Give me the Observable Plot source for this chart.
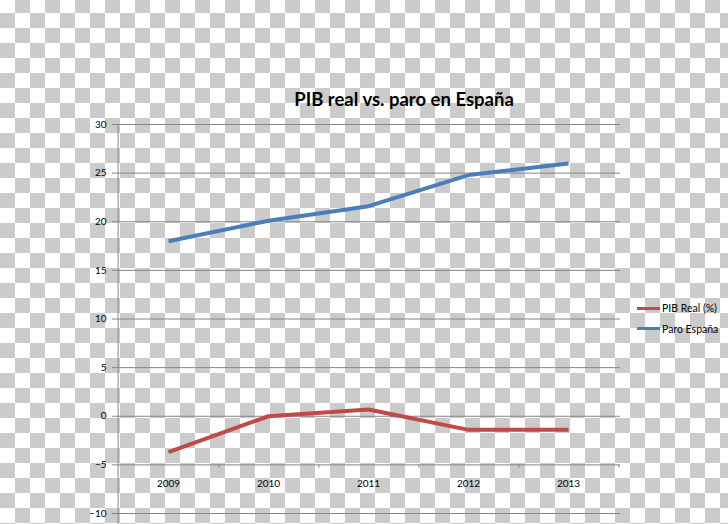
<!DOCTYPE html>
<html><head><meta charset="utf-8">
<script src="https://cdn.jsdelivr.net/npm/d3@7"></script>
<script src="https://cdn.jsdelivr.net/npm/@observablehq/plot@0.6"></script>
<style>
html,body{margin:0;padding:0;}
body{width:728px;height:524px;overflow:hidden;position:relative;background-color:#fff;
 background-image:repeating-conic-gradient(#cbcbcb 0 25%, #ffffff 0 50%);
 background-size:30px 30px;background-position:0 -2px;font-family:Lato,"Open Sans",sans-serif;}
#chart{position:absolute;left:0;top:0;}
#title{position:absolute;top:89px;left:0;width:808px;text-align:center;font-weight:bold;font-size:18.5px;line-height:20px;color:#000;}
#legend{position:absolute;left:637px;top:302px;font-size:10.5px;color:#000;}
.item{display:flex;align-items:center;height:12px;margin-bottom:8.5px;white-space:nowrap;}
.swatch{width:23px;height:3px;margin-right:2px;}
</style></head>
<body>
<div id="chart"></div>
<div id="title">PIB real vs. paro en España</div>
<div id="legend"></div>
<script>
const years = ["2009", "2010", "2011", "2012", "2013"];
const pibReal = [-3.7, 0.0, 0.7, -1.4, -1.4];
const paroEspana = [18.0, 20.1, 21.6, 24.8, 26.0];
const seriesNames = ["PIB Real (%)", "Paro España"];
const seriesColors = ["#BE4B48", "#4A7EBB"];
const yTicks = [-10, -5, 0, 5, 10, 15, 20, 25, 30];
const xAxisAt = -5;

const rows = [];
years.forEach((yr, i) => {
  rows.push({year: yr, value: pibReal[i], series: seriesNames[0]});
  rows.push({year: yr, value: paroEspana[i], series: seriesNames[1]});
});

const gridColor = "#868686";
const step = (620 - 116) / years.length;

const chart = Plot.plot({
  width: 728,
  height: 524,
  marginLeft: 116,
  marginRight: 108,
  marginTop: 124,
  marginBottom: 11,
  style: {background: "transparent", fontFamily: "Lato, 'Open Sans', sans-serif", fontSize: "10px", color: "#000", overflow: "visible"},
  x: {type: "point", domain: years, padding: 0.5, axis: null},
  y: {domain: [-10, 30], axis: null},
  color: {domain: seriesNames, range: seriesColors},
  marks: [
    Plot.ruleY(yTicks, {stroke: gridColor, strokeWidth: 1}),
    Plot.ruleX([years[0]], {y1: 30, y2: -11.2, dx: -step / 2, stroke: gridColor}),
    Plot.ruleX(years, {y1: xAxisAt, y2: xAxisAt - 0.35, dx: step / 2, stroke: gridColor}),
    Plot.axisY(yTicks, {label: null, tickSize: 4, tickPadding: 6, stroke: gridColor, fill: "#000", fontSize: 10}),
    Plot.text(years, {x: d => d, y: xAxisAt, dy: 19, text: d => d, fill: "#000", fontSize: 10}),
    Plot.line(rows, {x: "year", y: "value", z: "series", stroke: "series", strokeWidth: 4, strokeLinejoin: "round", strokeLinecap: "butt"})
  ]
});
document.getElementById("chart").appendChild(chart);

const legend = document.getElementById("legend");
seriesNames.forEach((name, i) => {
  const item = document.createElement("div");
  item.className = "item";
  const sw = document.createElement("span");
  sw.className = "swatch";
  sw.style.background = seriesColors[i];
  const t = document.createElement("span");
  t.textContent = name;
  item.appendChild(sw);
  item.appendChild(t);
  legend.appendChild(item);
});
</script>
</body></html>
